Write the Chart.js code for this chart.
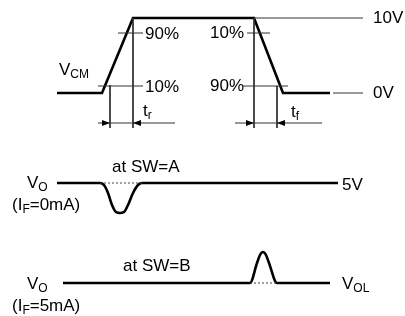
<!DOCTYPE html>
<html><head><meta charset="utf-8">
<script src="https://cdn.jsdelivr.net/npm/chart.js@4"></script>
<style>html,body{margin:0;padding:0;background:#fff}#wrap{width:405px;height:316px}</style>
</head><body><div id="wrap"><canvas id="c" width="405" height="316"></canvas></div>
<script>
// Diagram units: x = time axis, y = level axis (top-down)
// V_CM input pulse
const vcmTime  = [57, 102, 133, 254, 283, 330];
const vcmLevel = [93, 93, 18, 18, 93, 93];
// V_O at SW=A (dip)
const voATime  = [57, 100, 104, 108, 112, 116, 120, 124, 128, 133, 138, 142, 338];
const voALevel = [183, 183, 185, 193, 205, 212, 213, 212, 205, 193, 185, 183, 183];
// V_O at SW=B (bump)
const voBTime  = [63, 250, 257, 260, 263, 266, 269, 277, 330];
const voBLevel = [283, 283, 263, 255, 252, 255, 263, 283, 283];
// reference level lines
const refLines = [
  [[254,18],[363,18]], [[333,93],[363,93]],
  [[118,33],[143,33]], [[98,86],[143,86]],
  [[247,33],[270,33]], [[243,86],[288,86]],
  [[110,85],[110,128]], [[133,18],[133,128]],
  [[254,18],[254,128]], [[277,86],[277,128]],
  [[98,123],[175,123]], [[235,123],[322,123]]
];
const dottedLines = [ [[100,183],[142,183]], [[250,283],[277,283]] ];
// arrow tips: [x, y, direction]
const arrows = [[110,123,1],[133,123,-1],[254,123,1],[277,123,-1]];
// labels: [text, subscript, rest, x, baseline]
const labels = [
  ['V','CM','',59,75], ['90%','','',145,39], ['10%','','',145,92],
  ['10%','','',210,38], ['90%','','',210,91], ['10V','','',373,23], ['0V','','',373,98],
  ['t','r','',143,116], ['t','f','',291,117],
  ['at SW=A','','',112,172], ['5V','','',342,190], ['V','O','',27,188], ['(I','F','=0mA)',12,210],
  ['at SW=B','','',123,271], ['V','OL','',342,289], ['V','O','',27,289], ['(I','F','=5mA)',12,311]
];

const toPts = (xs, ys) => xs.map((x,i)=>({x, y: ys[i]}));
function segPts(segs){ const out=[]; segs.forEach(s=>{ out.push({x:s[0][0],y:s[0][1]},{x:s[1][0],y:s[1][1]},{x:null,y:null}); }); return out; }

const thick = {showLine:true, borderColor:'#000', borderWidth:2.6, pointRadius:0, fill:false};
const datasets = [
  {data: segPts(refLines), borderColor:'#333', borderWidth:1, showLine:true, pointRadius:0, spanGaps:false},
  {data: segPts(dottedLines), borderColor:'#444', borderWidth:1, borderDash:[2,2], showLine:true, pointRadius:0, spanGaps:false},
  Object.assign({data: toPts(vcmTime, vcmLevel), borderJoinStyle:'miter'}, thick),
  Object.assign({data: toPts(voATime, voALevel), cubicInterpolationMode:'monotone'}, thick),
  Object.assign({data: toPts(voBTime, voBLevel), cubicInterpolationMode:'monotone'}, thick),
];

const annot = {
  id:'annot',
  afterDatasetsDraw(chart){
    const ctx = chart.ctx, xs = chart.scales.x, ys = chart.scales.y;
    ctx.save();
    ctx.fillStyle = '#000';
    arrows.forEach(([x,y,d])=>{
      const px = xs.getPixelForValue(x), py = ys.getPixelForValue(y);
      ctx.beginPath(); ctx.moveTo(px,py); ctx.lineTo(px-d*8,py-3); ctx.lineTo(px-d*8,py+3); ctx.closePath(); ctx.fill();
    });
    const main = '17px "Liberation Sans", Arial, sans-serif', sub = '12px "Liberation Sans", Arial, sans-serif';
    labels.forEach(([t,s,r,x,b])=>{
      let px = xs.getPixelForValue(x); const py = ys.getPixelForValue(b);
      ctx.font = main; ctx.fillText(t, px, py); px += ctx.measureText(t).width;
      if (s){ ctx.font = sub; ctx.fillText(s, px, py+3); px += ctx.measureText(s).width; }
      if (r){ ctx.font = main; ctx.fillText(r, px, py); }
    });
    ctx.restore();
  }
};

new Chart(document.getElementById('c'), {
  type:'scatter',
  data:{datasets},
  options:{
    responsive:false, animation:false, devicePixelRatio:1,
    layout:{padding:0},
    plugins:{legend:{display:false}, tooltip:{enabled:false}},
    scales:{
      x:{type:'linear', min:0, max:405, display:false},
      y:{type:'linear', min:0, max:316, reverse:true, display:false}
    }
  },
  plugins:[annot]
});
</script></body></html>
